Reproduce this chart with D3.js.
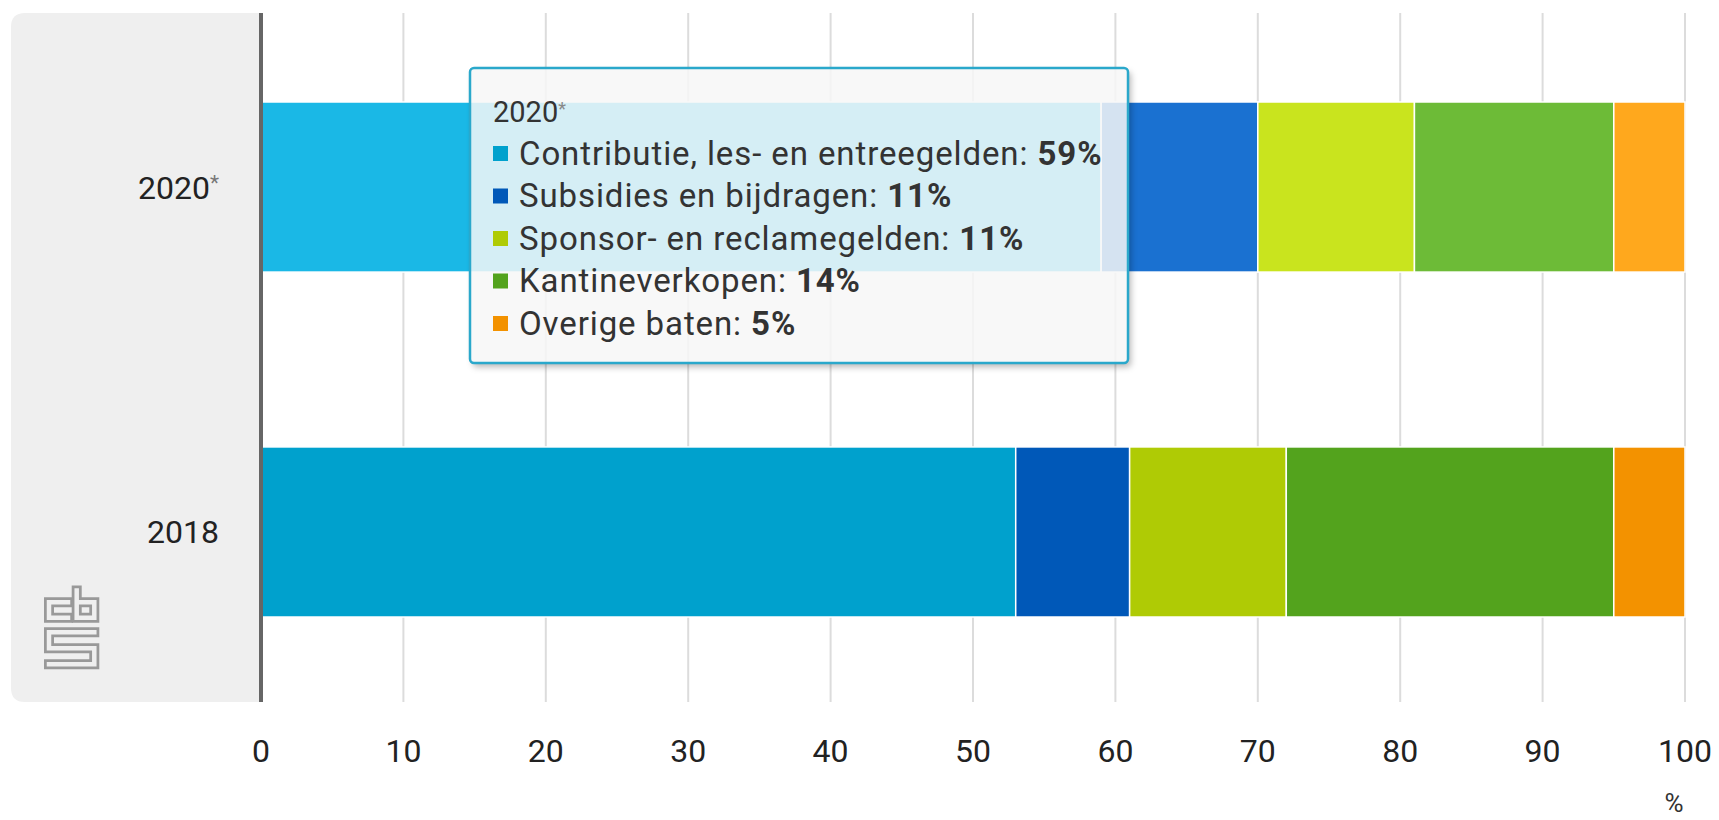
<!DOCTYPE html>
<html>
<head>
<meta charset="utf-8">
<script src="https://cdn.jsdelivr.net/npm/d3@7"></script>
<style>
  body { margin: 0; background: #fff; }
  svg { display: block; font-family: Roboto, "Noto Sans", sans-serif; }
</style>
</head>
<body>
<div id="chart"></div>
<script>
  // data
  const years = ["2020*", "2018"];
  const series = [
    "Contributie, les- en entreegelden",
    "Subsidies en bijdragen",
    "Sponsor- en reclamegelden",
    "Kantineverkopen",
    "Overige baten"
  ];
  const values2020 = [59, 11, 11, 14, 5];
  const values2018 = [53, 8, 11, 23, 5];
  const xTicks = [0, 10, 20, 30, 40, 50, 60, 70, 80, 90, 100];

  const colors = ["#00a1cd", "#0058b8", "#afcb05", "#53a31d", "#f39200"];
  const colorsHover = ["#1ab8e6", "#1a71d1", "#c9e41e", "#6dbb37", "#ffa81d"];

  const w = 1719;
  const h = 820;
  const plotTop = 13, plotBottom = 702;
  const plotLeft = 261, plotRight = 1685;

  let viz = d3.select("#chart").append("svg")
      .attr("width", w)
      .attr("height", h);

  let x = d3.scaleLinear().domain([0, 100]).range([plotLeft, plotRight]);
  let y = d3.scaleBand().domain(years).range([plotTop, 706])
      .paddingInner(0.507).paddingOuter(0.258);

  //grey panel behind the labels
  viz.append("path")
    .attr("d", `M${plotLeft},${plotTop} H25 Q11,${plotTop} 11,${plotTop + 14} V${plotBottom - 14} Q11,${plotBottom} 25,${plotBottom} H${plotLeft} Z`)
    .attr("fill", "#efefef");

  //grid
  viz.selectAll(".grid")
    .data(xTicks.filter(d => d > 0))
    .enter()
    .append("line")
      .attr("x1", d => x(d)).attr("x2", d => x(d))
      .attr("y1", plotTop).attr("y2", plotBottom)
      .attr("stroke", "#dcdcdc")
      .attr("stroke-width", 2);

  //stacked bars
  let rows = [
    { year: years[0], vals: values2020, fill: colorsHover },
    { year: years[1], vals: values2018, fill: colors }
  ];
  rows.forEach(function(r, k){
    let acc = 0;
    let segs = r.vals.map(function(v, i){
      let s = { x0: acc, x1: acc + v, i: i };
      acc += v;
      return s;
    });
    viz.selectAll(".seg" + k)
      .data(segs)
      .enter()
      .append("rect")
        .attr("x", d => x(d.x0))
        .attr("y", y(r.year))
        .attr("width", d => x(d.x1) - x(d.x0))
        .attr("height", y.bandwidth())
        .attr("fill", d => r.fill[d.i])
        .attr("stroke", "#fff")
        .attr("stroke-width", 1.5);
  });

  //axis line at 0
  viz.append("line")
    .attr("x1", x(0)).attr("x2", x(0))
    .attr("y1", plotTop).attr("y2", plotBottom)
    .attr("stroke", "#666")
    .attr("stroke-width", 4);

  //category labels
  let lab = viz.selectAll(".cat")
    .data(years)
    .enter()
    .append("text")
      .attr("x", 219)
      .attr("y", d => y(d) + y.bandwidth() / 2)
      .attr("dy", "0.36em")
      .attr("text-anchor", "end")
      .attr("font-size", 32)
      .attr("fill", "#222");
  lab.append("tspan").text(d => d.replace("*", ""));
  lab.filter(d => d.indexOf("*") >= 0)
    .append("tspan")
      .attr("dy", "-0.4em")
      .attr("font-size", 21)
      .attr("fill", "#777")
      .text("*");

  //x ticks
  viz.selectAll(".tick")
    .data(xTicks)
    .enter()
    .append("text")
      .attr("x", d => x(d))
      .attr("y", 750)
      .attr("dy", "0.36em")
      .attr("text-anchor", "middle")
      .attr("font-size", 32)
      .attr("fill", "#222")
      .text(d => d);

  viz.append("text")
    .attr("x", 1674)
    .attr("y", 803)
    .attr("dy", "0.36em")
    .attr("text-anchor", "middle")
    .attr("font-size", 26)
    .attr("fill", "#333")
    .text("%");

  //cbs logo
  let logo = viz.append("g").attr("fill", "none").attr("stroke-linecap", "square").attr("stroke-linejoin", "miter");
  let logoPaths = [
    "M68,602.3 H49 V617.7 H68",
    "M76.7,590.5 V617.7 H94.3 V602.3 H76.7",
    "M94.3,632.3 H49 V648.3 H94.3 V664.3 H49"
  ];
  logo.selectAll(".out").data(logoPaths).enter().append("path")
    .attr("d", d => d).attr("stroke", "#999").attr("stroke-width", 10);
  logo.selectAll(".in").data(logoPaths).enter().append("path")
    .attr("d", d => d).attr("stroke", "#efefef").attr("stroke-width", 4.5);

  //tooltip
  const tipX = 470, tipY = 68, tipW = 658, tipH = 295;
  let defs = viz.append("defs");
  defs.append("filter").attr("id", "blur")
    .attr("x", "-10%").attr("y", "-10%").attr("width", "120%").attr("height", "120%")
    .append("feGaussianBlur").attr("stdDeviation", 3);
  let mask = defs.append("mask").attr("id", "shadowMask");
  mask.append("rect").attr("x", 0).attr("y", 0).attr("width", w).attr("height", h).attr("fill", "#fff");
  mask.append("rect").attr("x", tipX).attr("y", tipY).attr("width", tipW).attr("height", tipH)
    .attr("rx", 4).attr("fill", "#000");

  let tip = viz.append("g");
  tip.append("g").attr("mask", "url(#shadowMask)")
    .append("rect")
      .attr("x", tipX + 3).attr("y", tipY + 4)
      .attr("width", tipW).attr("height", tipH)
      .attr("rx", 4)
      .attr("fill", "#000")
      .attr("fill-opacity", 0.28)
      .attr("filter", "url(#blur)");
  tip.append("rect")
    .attr("x", tipX).attr("y", tipY)
    .attr("width", tipW).attr("height", tipH)
    .attr("rx", 4)
    .attr("fill", "#f7f7f7")
    .attr("fill-opacity", 0.85)
    .attr("stroke", "#2aa8cb")
    .attr("stroke-width", 2.5);

  let title = tip.append("text")
    .attr("x", 493).attr("y", 112)
    .attr("dy", "0.36em")
    .attr("font-size", 29)
    .attr("fill", "#333");
  title.append("tspan").text(years[0].replace("*", ""));
  title.append("tspan").attr("dy", "-0.4em").attr("font-size", 18).attr("fill", "#888").text("*");

  let items = tip.selectAll(".item")
    .data(series)
    .enter()
    .append("g")
      .attr("transform", (d, i) => `translate(493, ${153 + i * 42.5})`);
  items.append("rect")
    .attr("x", 0).attr("y", -7)
    .attr("width", 15).attr("height", 15)
    .attr("fill", (d, i) => colors[i]);
  let t = items.append("text")
    .attr("x", 26)
    .attr("dy", "0.36em")
    .attr("font-size", 33)
    .attr("letter-spacing", 0.9)
    .attr("fill", "#333");
  t.append("tspan").text(d => d + ": ");
  t.append("tspan").attr("font-weight", "bold").text((d, i) => values2020[i] + "%");
</script>
</body>
</html>
